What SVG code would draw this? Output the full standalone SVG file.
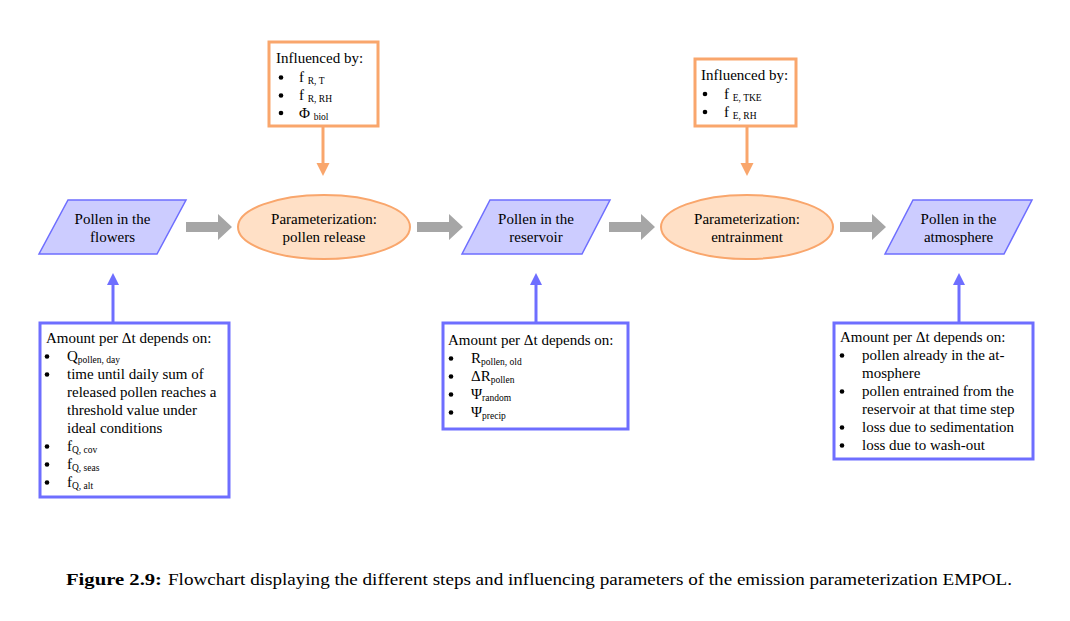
<svg xmlns="http://www.w3.org/2000/svg" width="1070" height="621" viewBox="0 0 1070 621">
<style>
text{font-family:"Liberation Serif","Times New Roman","DejaVu Serif",serif;fill:#000;}
.t{font-size:15px;}
.c{text-anchor:middle;}
.s{font-size:9.5px;}
.para{fill:#CCCCFF;stroke:#6E6EFF;stroke-width:1.5;}
.ell{fill:#FFE0C6;stroke:#F9A66C;stroke-width:2;}
.obox{fill:#fff;stroke:#F9A66C;stroke-width:3;}
.bbox{fill:#fff;stroke:#6E6EFF;stroke-width:3;}
.gar{fill:#A6A6A6;}
.oline{stroke:#F9A66C;stroke-width:3;fill:none;}
.bline{stroke:#6E6EFF;stroke-width:3;fill:none;}
.ohead{fill:#F9A66C;}
.bhead{fill:#6E6EFF;}
.bul{fill:#000;}
.cap{font-size:16px;}
</style>
<defs>
<path id="garrow" d="M0,-5 H32 V-13 L46,0 L32,13 V5 H0 Z"/>
<circle id="dot" r="2.3"/>
</defs>
<rect width="1070" height="621" fill="#fff"/>

<g id="connectors">
<use href="#garrow" class="gar" x="186" y="227"/>
<use href="#garrow" class="gar" x="417" y="227"/>
<use href="#garrow" class="gar" x="609" y="227"/>
<use href="#garrow" class="gar" x="840" y="227"/>
<line class="oline" x1="323" y1="126" x2="323" y2="164"/>
<polygon class="ohead" points="316.5,163 329.5,163 323,176"/>
<line class="oline" x1="747" y1="126" x2="747" y2="164"/>
<polygon class="ohead" points="740.5,163 753.5,163 747,176"/>
<line class="bline" x1="113" y1="322" x2="113" y2="284"/>
<polygon class="bhead" points="107,285 119,285 113,273"/>
<line class="bline" x1="536" y1="322" x2="536" y2="284"/>
<polygon class="bhead" points="530,285 542,285 536,273"/>
<line class="bline" x1="959" y1="322" x2="959" y2="284"/>
<polygon class="bhead" points="953,285 965,285 959,273"/>
</g>

<g id="flowers">
<polygon class="para" points="68,200 186,200 157,254 39,254"/>
<text class="t c" x="112.5" y="224">Pollen in the</text>
<text class="t c" x="112.5" y="242">flowers</text>
</g>

<g id="release">
<ellipse class="ell" cx="324" cy="227" rx="86" ry="32"/>
<text class="t c" x="324" y="224">Parameterization:</text>
<text class="t c" x="324" y="242">pollen release</text>
</g>

<g id="reservoir">
<polygon class="para" points="490,200 610,200 582,254 462,254"/>
<text class="t c" x="536" y="224">Pollen in the</text>
<text class="t c" x="536" y="242">reservoir</text>
</g>

<g id="entrainment">
<ellipse class="ell" cx="747" cy="227" rx="86" ry="32"/>
<text class="t c" x="747" y="224">Parameterization:</text>
<text class="t c" x="747" y="242">entrainment</text>
</g>

<g id="atmosphere">
<polygon class="para" points="913,200 1032,200 1004,254 885,254"/>
<text class="t c" x="958.5" y="224">Pollen in the</text>
<text class="t c" x="958.5" y="242">atmosphere</text>
</g>

<g id="infl-release">
<rect class="obox" x="269" y="42" width="109" height="84"/>
<text class="t" x="276" y="63">Influenced by:</text>
<use href="#dot" class="bul" x="281" y="77.5"/>
<text class="t" x="299" y="82">f <tspan class="s" dy="2">R, T</tspan></text>
<use href="#dot" class="bul" x="281" y="95.5"/>
<text class="t" x="299" y="100">f <tspan class="s" dy="2">R, RH</tspan></text>
<use href="#dot" class="bul" x="281" y="113"/>
<text class="t" x="299" y="117.5">Φ <tspan class="s" dy="2">biol</tspan></text>
</g>

<g id="infl-entrainment">
<rect class="obox" x="695" y="59" width="101" height="67"/>
<text class="t" x="701" y="80">Influenced by:</text>
<use href="#dot" class="bul" x="705" y="94"/>
<text class="t" x="724" y="98.5">f <tspan class="s" dy="2">E, TKE</tspan></text>
<use href="#dot" class="bul" x="705" y="112"/>
<text class="t" x="724" y="116.5">f <tspan class="s" dy="2">E, RH</tspan></text>
</g>

<g id="amount-flowers">
<rect class="bbox" x="40" y="323" width="189" height="174"/>
<text class="t" x="46" y="343">Amount per Δt depends on:</text>
<use href="#dot" class="bul" x="47" y="356.5"/>
<text class="t" x="67" y="361">Q<tspan class="s" dy="2">pollen, day</tspan></text>
<use href="#dot" class="bul" x="47" y="374.5"/>
<text class="t" x="67" y="379">time until daily sum of</text>
<text class="t" x="67" y="397">released pollen reaches a</text>
<text class="t" x="67" y="415">threshold value under</text>
<text class="t" x="67" y="433">ideal conditions</text>
<use href="#dot" class="bul" x="47" y="446.5"/>
<text class="t" x="67" y="451">f<tspan class="s" dy="2">Q, cov</tspan></text>
<use href="#dot" class="bul" x="47" y="464.5"/>
<text class="t" x="67" y="469">f<tspan class="s" dy="2">Q, seas</tspan></text>
<use href="#dot" class="bul" x="47" y="482.5"/>
<text class="t" x="67" y="487">f<tspan class="s" dy="2">Q, alt</tspan></text>
</g>

<g id="amount-reservoir">
<rect class="bbox" x="443" y="323" width="185" height="106"/>
<text class="t" x="448" y="345">Amount per Δt depends on:</text>
<use href="#dot" class="bul" x="451" y="358.5"/>
<text class="t" x="471" y="363">R<tspan class="s" dy="2">pollen, old</tspan></text>
<use href="#dot" class="bul" x="451" y="376.5"/>
<text class="t" x="471" y="381">ΔR<tspan class="s" dy="2">pollen</tspan></text>
<use href="#dot" class="bul" x="451" y="394.5"/>
<text class="t" x="471" y="399">Ψ<tspan class="s" dy="2">random</tspan></text>
<use href="#dot" class="bul" x="451" y="412.5"/>
<text class="t" x="471" y="417">Ψ<tspan class="s" dy="2">precip</tspan></text>
</g>

<g id="amount-atmosphere">
<rect class="bbox" x="834" y="323" width="199" height="136"/>
<text class="t" x="840" y="342">Amount per Δt depends on:</text>
<use href="#dot" class="bul" x="842" y="355.5"/>
<text class="t" x="862" y="360">pollen already in the at-</text>
<text class="t" x="862" y="378">mosphere</text>
<use href="#dot" class="bul" x="842" y="391.5"/>
<text class="t" x="862" y="396">pollen entrained from the</text>
<text class="t" x="862" y="414">reservoir at that time step</text>
<use href="#dot" class="bul" x="842" y="427.5"/>
<text class="t" x="862" y="432">loss due to sedimentation</text>
<use href="#dot" class="bul" x="842" y="445.5"/>
<text class="t" x="862" y="450">loss due to wash-out</text>
</g>

<text class="cap" x="66" y="585" font-weight="bold" textLength="96" lengthAdjust="spacingAndGlyphs">Figure 2.9:</text>
<text class="cap" x="168" y="585" textLength="844" lengthAdjust="spacingAndGlyphs">Flowchart displaying the different steps and influencing parameters of the emission parameterization EMPOL.</text>
</svg>
